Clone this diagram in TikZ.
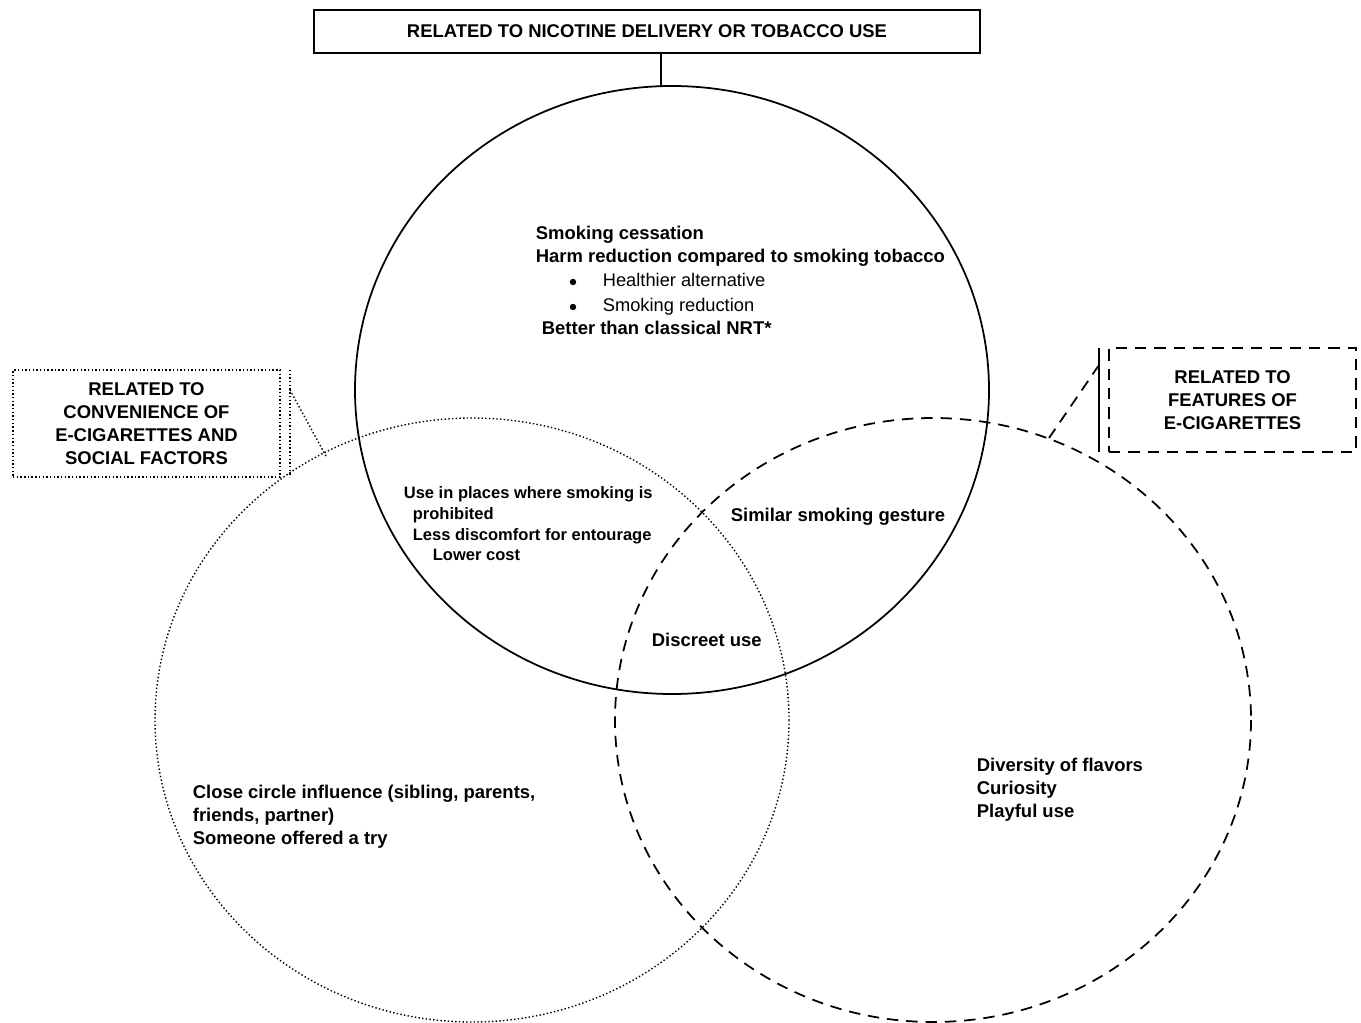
\documentclass[tikz,border=0pt]{standalone}
\usepackage{fontspec}
\setmainfont{Liberation Sans}
\usetikzlibrary{calc}

\tikzset{
	txt/.style={anchor=base west, inner sep=0pt, font=\bfseries\fontsize{10.5}{13}\selectfont},
	smalltxt/.style={anchor=base west, inner sep=0pt, font=\bfseries\fontsize{9.4}{12}\selectfont},
	plaintxt/.style={anchor=base west, inner sep=0pt, font=\fontsize{10.4}{13}\selectfont},
	boxtxt/.style={align=center, inner sep=0pt, font=\bfseries\fontsize{10.5}{13.1}\selectfont},
	dots/.style={line width=0.8pt, dash pattern=on 0.8pt off 1.3pt},
	dashes/.style={line width=1pt, dash pattern=on 6.5pt off 4.5pt}
}

\begin{document}
\begin{tikzpicture}[x=0.02cm, y=-0.02cm, line width=1pt]
	\useasboundingbox (0,0) rectangle (1361,1023);
	
	% Define centres of the three circles
	\coordinate (N) at (672,390);
	\coordinate (S) at (472,720);
	\coordinate (F) at (933,720);
	
	% Draw circles
	\draw (N) ellipse [x radius=317, y radius=304];
	\draw[dots] (S) ellipse [x radius=317, y radius=302];
	\draw[dashes] (F) ellipse [x radius=318, y radius=302];
	
	% Category boxes
	\node[draw, boxtxt, minimum width=13.32cm, minimum height=0.86cm] (nicbox) at (647,31.5) {RELATED TO NICOTINE DELIVERY OR TOBACCO USE};
	\node[draw, dots, boxtxt, minimum width=5.34cm, minimum height=2.14cm] (socbox) at (146.5,423.5) {RELATED TO\\CONVENIENCE OF\\E-CIGARETTES AND\\SOCIAL FACTORS};
	\node[draw, dashes, boxtxt, minimum width=4.94cm, minimum height=2.08cm] (featbox) at (1232.5,400) {RELATED TO\\FEATURES OF\\E-CIGARETTES};
	
	% Links from boxes to circles
	\coordinate (Ntop) at (661,86);
	\draw (nicbox.south -| Ntop) -- (Ntop);
	
	\coordinate (Sbar1) at (290,370);
	\coordinate (Sbar2) at (290,477);
	\coordinate (Sbar) at (290,390);
	\coordinate (Sedge) at (327,458);
	\draw[dots] (Sbar1) -- (Sbar2);
	\draw[dots] (Sbar) -- (Sedge);
	
	\coordinate (Fbar1) at (1099,348);
	\coordinate (Fbar2) at (1099,452);
	\coordinate (Fbar) at (1099,365);
	\coordinate (Fedge) at (1049,438);
	\draw (Fbar1) -- (Fbar2);
	\draw[dashes] (Fbar) -- (Fedge);
	
	% Nicotine delivery or tobacco use
	\node[txt] (n1) at (535,240) {Smoking cessation};
	\node[txt] (n2) at (535,263) {Harm reduction compared to smoking tobacco};
	\node[plaintxt] (n3) at (602,287) {Healthier alternative};
	\node[plaintxt] (n4) at (602,312) {Smoking reduction};
	\node[txt] (n5) at (541,335) {Better than classical NRT*};
	\fill (573,282) circle (3.2) (573,307) circle (3.2);
	
	% Overlap nicotine / social
	\node[smalltxt] (ns1) at (403,498) {Use in places where smoking is};
	\node[smalltxt] (ns2) at (412,519) {prohibited};
	\node[smalltxt] (ns3) at (412,540) {Less discomfort for entourage};
	\node[smalltxt] (ns4) at (432,560) {Lower cost};
	
	% Overlap nicotine / features
	\node[txt] (nf1) at (730,521) {Similar smoking gesture};
	
	% All three
	\node[txt] (all1) at (651,646) {Discreet use};
	
	% Social factors only
	\node[txt] (s1) at (192,798) {Close circle influence (sibling, parents,};
	\node[txt] (s2) at (192,821) {friends, partner)};
	\node[txt] (s3) at (192,844) {Someone offered a try};
	
	% Features only
	\node[txt] (f1) at (976,771) {Diversity of flavors};
	\node[txt] (f2) at (976,794) {Curiosity};
	\node[txt] (f3) at (976,817) {Playful use};
	
\end{tikzpicture}
\end{document}
